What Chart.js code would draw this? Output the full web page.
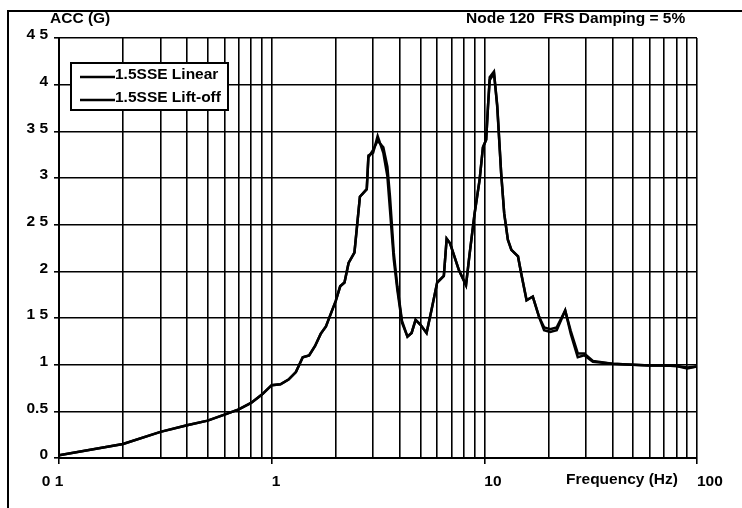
<!DOCTYPE html>
<html>
<head>
<meta charset="utf-8">
<script src="https://cdn.jsdelivr.net/npm/chart.js@4/dist/chart.umd.min.js"></script>
<style>
  html, body { margin: 0; padding: 0; background: #fff; }
  #wrap { position: relative; width: 742px; height: 508px; }
  canvas { display: block; }
</style>
</head>
<body>
<div id="wrap"><canvas id="c" width="742" height="508"></canvas></div>
<script>
// ---- data ----
const freqHz = [0.1,0.2,0.3,0.4,0.5,0.6,0.7,0.8,0.9,1.0,1.1,1.2,1.3,1.4,1.5,1.6,1.7,1.8,1.9,2.0,
  2.1,2.2,2.3,2.45,2.6,2.8,2.85,3.0,3.15,3.35,3.5,3.6,3.75,3.9,4.1,4.35,4.55,4.75,5.0,5.35,
  5.65,6.0,6.45,6.65,6.9,7.6,8.2,8.5,9.0,9.5,9.85,10.2,10.4,10.6,11.1,11.5,12.0,12.4,12.9,13.4,
  14.4,14.9,15.8,16.9,18.1,19.1,20.4,21.9,24.0,25.5,27.5,29.5,32.4,40,50,60,70,80,90,100];
const accLinear = [0.03,0.15,0.28,0.35,0.40,0.465,0.52,0.59,0.68,0.78,0.79,0.84,0.92,1.08,1.10,1.20,1.33,1.41,1.55,1.68,
  1.84,1.88,2.09,2.20,2.80,2.88,3.24,3.27,3.45,3.27,3.02,2.66,2.13,1.80,1.45,1.30,1.34,1.48,1.43,1.34,
  1.59,1.88,1.95,2.35,2.30,2.01,1.85,2.16,2.62,2.98,3.33,3.41,3.76,4.08,4.14,3.76,3.05,2.62,2.34,2.23,
  2.16,1.98,1.69,1.73,1.51,1.37,1.35,1.37,1.58,1.33,1.08,1.10,1.03,1.01,1.00,0.99,0.99,0.985,0.97,0.98];
const accLiftOff = [0.03,0.15,0.28,0.35,0.40,0.465,0.52,0.59,0.68,0.78,0.79,0.84,0.92,1.08,1.10,1.20,1.33,1.41,1.55,1.68,
  1.84,1.88,2.09,2.20,2.80,2.88,3.22,3.30,3.40,3.33,3.12,2.80,2.20,1.84,1.47,1.30,1.34,1.48,1.43,1.34,
  1.59,1.88,1.95,2.35,2.30,2.01,1.85,2.16,2.62,2.98,3.33,3.41,3.76,4.05,4.12,3.78,3.05,2.62,2.34,2.23,
  2.16,1.98,1.69,1.73,1.51,1.40,1.38,1.40,1.58,1.36,1.12,1.12,1.04,1.01,1.00,0.99,0.99,0.985,0.96,0.98];
const seriesNames = ['1.5SSE Linear', '1.5SSE Lift-off'];
const xGridValues = [0.1,0.2,0.3,0.4,0.5,0.6,0.7,0.8,0.9,1,2,3,4,5,6,7,8,9,10,20,30,40,50,60,70,80,90,100];
const xTickLabels = {0.1: '0 1   ', 1: '  1', 10: '    10', 100: '      100'};
const yTickLabels = ['0','0.5','1','1 5','2','2 5','3','3 5','4','4 5'];
const yAxisTitle = 'ACC (G)';
const xAxisTitle = 'Frequency (Hz)';
const chartTitle = 'Node 120  FRS Damping = 5%';

const FAMILY = '"Liberation Sans", Arial, sans-serif';
const FONT = 'bold 15.5px ' + FAMILY;

const decoPlugin = {
  id: 'deco',
  beforeDraw(chart) {
    const ctx = chart.ctx;
    ctx.save();
    ctx.fillStyle = '#fff';
    ctx.fillRect(0, 0, chart.width, chart.height);
    ctx.strokeStyle = '#000';
    ctx.lineWidth = 2;
    ctx.beginPath();
    ctx.moveTo(8, 508);
    ctx.lineTo(8, 11);
    ctx.lineTo(742, 11);
    ctx.stroke();
    ctx.restore();
  },
  afterDraw(chart) {
    const ctx = chart.ctx;
    ctx.save();
    ctx.fillStyle = '#000';
    ctx.font = FONT;
    ctx.textBaseline = 'middle';
    ctx.textAlign = 'left';
    ctx.fillText(yAxisTitle, 50, 19);
    ctx.fillText(chartTitle, 466, 19);
    ctx.textAlign = 'center';
    ctx.fillText(xAxisTitle, 622, 480);
    // legend box
    const bx = 71, by = 63, bw = 157, bh = 47;
    ctx.fillStyle = '#fff';
    ctx.fillRect(bx, by, bw, bh);
    ctx.strokeStyle = '#000';
    ctx.lineWidth = 2;
    ctx.strokeRect(bx, by, bw, bh);
    ctx.textAlign = 'left';
    ctx.fillStyle = '#000';
    chart.data.datasets.forEach((ds, i) => {
      const yy = by + 13 + i * 23;
      ctx.lineWidth = ds.borderWidth;
      ctx.strokeStyle = ds.borderColor;
      ctx.beginPath();
      ctx.moveTo(bx + 9, yy + 1);
      ctx.lineTo(bx + 44, yy + 1);
      ctx.stroke();
      ctx.fillText(ds.label, bx + 44, yy - 1);
    });
    ctx.restore();
  }
};

const mk = (arr) => freqHz.map((f, i) => ({x: f, y: arr[i]}));
const isMajor = (v) => [0.1, 1, 10, 100].some(m => Math.abs(v - m) < 1e-9);

new Chart(document.getElementById('c'), {
  type: 'line',
  data: {
    datasets: [
      {label: seriesNames[0], data: mk(accLinear), borderColor: '#000', borderWidth: 2.5, pointRadius: 0, tension: 0, fill: false},
      {label: seriesNames[1], data: mk(accLiftOff), borderColor: '#000', borderWidth: 2.5, pointRadius: 0, tension: 0, fill: false}
    ]
  },
  plugins: [decoPlugin],
  options: {
    responsive: false,
    animation: false,
    devicePixelRatio: 1,
    layout: {padding: {left: 0, right: 45, top: 38, bottom: 0}},
    plugins: {legend: {display: false}, tooltip: {enabled: false}, title: {display: false}},
    scales: {
      x: {
        type: 'logarithmic',
        min: 0.1, max: 100,
        afterBuildTicks: (s) => { s.ticks = xGridValues.map(v => ({value: v, major: isMajor(v)})); },
        afterFit: (s) => { s.height = 50; },
        border: {color: '#000', width: 2},
        grid: {
          color: '#000', lineWidth: 1.6, tickLength: 6,
          tickColor: (c) => (c.tick && isMajor(c.tick.value)) ? '#000' : 'rgba(0,0,0,0)',
          tickWidth: 1.6
        },
        ticks: {
          autoSkip: false, maxRotation: 0, minRotation: 0, padding: 8,
          color: '#000', font: {family: FAMILY, size: 15.5, weight: 'bold'},
          callback: (v) => { const k = Object.keys(xTickLabels).find(m => Math.abs(+m - v) < 1e-9); return k !== undefined ? xTickLabels[k] : ''; }
        }
      },
      y: {
        type: 'linear',
        min: 0, max: 4.5,
        afterFit: (s) => { s.width = 59; },
        border: {color: '#000', width: 2},
        grid: {color: '#000', lineWidth: 1.6, tickLength: 5, tickColor: '#000', tickWidth: 1.6},
        ticks: {
          stepSize: 0.5, padding: 6, labelOffset: -3,
          color: '#000', font: {family: FAMILY, size: 15.5, weight: 'bold'},
          callback: (v) => { const i = Math.round(v / 0.5); return yTickLabels[i]; }
        }
      }
    }
  }
});
</script>
</body>
</html>
